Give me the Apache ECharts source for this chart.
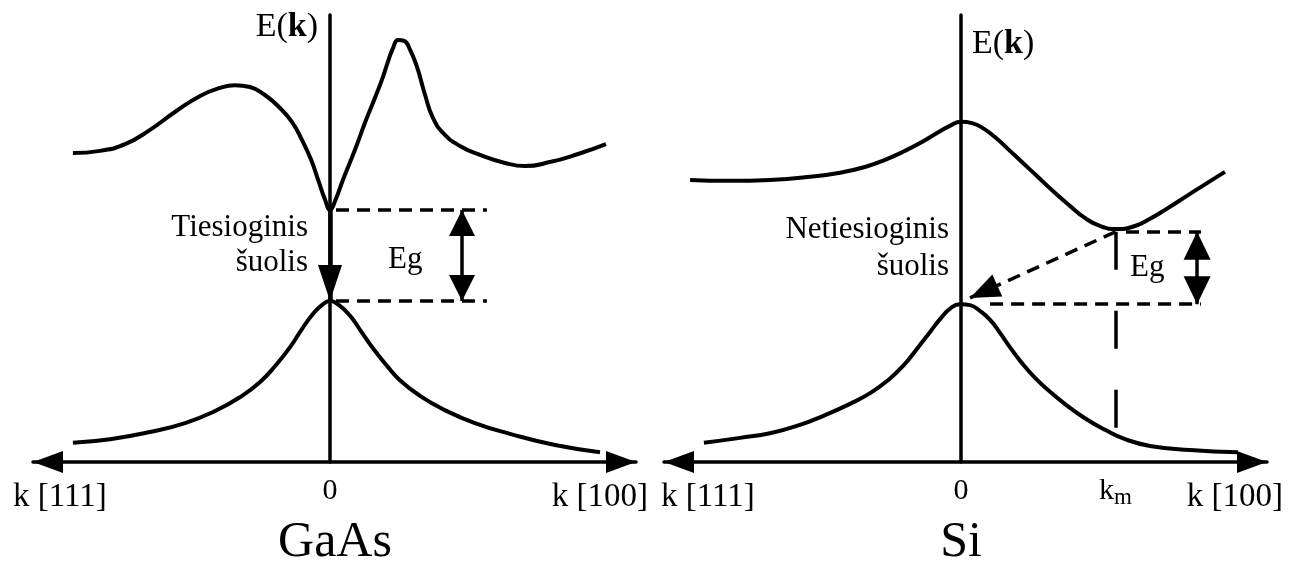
<!DOCTYPE html>
<html>
<head>
<meta charset="utf-8">
<script src="https://cdn.jsdelivr.net/npm/echarts@6/dist/echarts.min.js"></script>
<style>
html, body { margin: 0; padding: 0; background: #fff; }
#chart { width: 1296px; height: 568px; }
</style>
</head>
<body>
<div id="chart"></div>
<script>
// Band diagrams E(k) for GaAs (direct gap) and Si (indirect gap).
// k runs from the [111] direction (negative) to the [100] direction (positive).

// GaAs conduction band
const gaasCondK = [-0.857, -0.767, -0.683, -0.6, -0.517, -0.433, -0.367, -0.317, -0.267, -0.217, -0.167, -0.127,
  -0.093, -0.063, -0.037, -0.017, 0, 0.017, 0.043, 0.083, 0.12, 0.147, 0.173, 0.193, 0.21, 0.227, 0.247, 0.267,
  0.29, 0.317, 0.343, 0.38, 0.433, 0.5, 0.583, 0.65, 0.733, 0.827, 0.92];
const gaasCondE = [6.91, 6.96, 7.11, 7.43, 7.83, 8.19, 8.37, 8.43, 8.39, 8.21, 7.92, 7.61,
  7.20, 6.76, 6.26, 5.88, 5.64, 5.84, 6.31, 6.98, 7.65, 8.10, 8.55, 8.95, 9.26, 9.44, 9.42, 9.22,
  8.84, 8.21, 7.70, 7.34, 7.07, 6.87, 6.69, 6.62, 6.71, 6.89, 7.11];

// GaAs valence band
const gaasValK = [-0.857, -0.733, -0.6, -0.483, -0.383, -0.3, -0.233, -0.18, -0.133, -0.093, -0.057, -0.027, 0,
  0.03, 0.067, 0.107, 0.147, 0.19, 0.233, 0.3, 0.383, 0.483, 0.6, 0.75, 0.9];
const gaasValE = [0.43, 0.51, 0.67, 0.87, 1.14, 1.45, 1.79, 2.17, 2.57, 2.98, 3.31, 3.51, 3.60,
  3.51, 3.27, 2.89, 2.51, 2.15, 1.83, 1.48, 1.16, 0.87, 0.63, 0.38, 0.22];

// Si conduction band
const siCondK = [-0.903, -0.77, -0.637, -0.503, -0.403, -0.32, -0.253, -0.187, -0.13, -0.08, -0.037, 0,
  0.037, 0.073, 0.113, 0.157, 0.203, 0.253, 0.31, 0.363, 0.413, 0.463, 0.52, 0.58, 0.63, 0.68, 0.757, 0.82, 0.88];
const siCondE = [6.31, 6.29, 6.31, 6.38, 6.47, 6.60, 6.76, 6.96, 7.16, 7.36, 7.52, 7.61,
  7.58, 7.47, 7.27, 7.00, 6.71, 6.40, 6.04, 5.73, 5.46, 5.28, 5.21, 5.28, 5.44, 5.64, 5.97, 6.24, 6.49];

// Si valence band
const siValK = [-0.857, -0.737, -0.633, -0.537, -0.453, -0.37, -0.303, -0.243, -0.193, -0.147, -0.103, -0.067, -0.033, 0,
  0.03, 0.063, 0.097, 0.13, 0.163, 0.2, 0.247, 0.297, 0.35, 0.413, 0.48, 0.547, 0.63, 0.763, 0.923];
const siValE = [0.43, 0.54, 0.65, 0.83, 1.05, 1.30, 1.54, 1.83, 2.15, 2.53, 2.91, 3.22, 3.45, 3.53,
  3.51, 3.38, 3.18, 2.89, 2.57, 2.24, 1.88, 1.57, 1.28, 0.98, 0.72, 0.51, 0.36, 0.27, 0.22];

// Band edges and gap markers
const gaasEc = 5.64, gaasEv = 3.60;
const gaasGuideK = [0.02, 0.523];   // dashed guide lines at Ec and Ev
const gaasEgK = 0.44;               // position of the Eg double arrow

const siEc = 5.15, siEv = 3.53;
const siKm = 0.515;                 // k of the conduction band minimum
const siTopGuideK = [0.55, 0.80];
const siBottomGuideK = [0.097, 0.80];
const siEgK = 0.787;
const siDropEnd = 0.72;             // lower end of the dashed line at k_m
const siJumpTip = [0.03, 3.67];     // head of the indirect transition arrow

// Axis ranges and labels
const kMin = -0.99, kMax = 1.02;
const eMin = 0, eMax = 10;
const gaasTickLabels = [0];
const siTickLabels = [0, siKm];

const SERIF = "'Liberation Serif', 'DejaVu Serif', serif";
const INK = '#000';

const zip = (ks, es) => ks.map((k, i) => [k, es[i]]);

const chart = echarts.init(document.getElementById('chart'), null, { renderer: 'canvas' });

function xAxisFor(gridIndex, labelValues) {
  return {
    type: 'value', gridIndex, min: kMin, max: kMax,
    splitLine: { show: false },
    axisTick: { show: false },
    axisLine: {
      show: true, onZero: true,
      symbol: ['triangle', 'triangle'],
      symbolSize: [22, 30],
      symbolOffset: [15, -15],
      lineStyle: { color: INK, width: 3.5 }
    },
    axisLabel: {
      show: true,
      customValues: labelValues,
      margin: 14,
      color: INK,
      fontFamily: SERIF,
      fontSize: 30,
      formatter: v => (v === 0 ? '0' : '{k|k}{m|m}'),
      rich: {
        k: { fontFamily: SERIF, fontSize: 30, color: INK, lineHeight: 30 },
        m: { fontFamily: SERIF, fontSize: 23, color: INK, lineHeight: 30, padding: [14, 0, 0, 0] }
      }
    }
  };
}

function yAxisFor(gridIndex) {
  return {
    type: 'value', gridIndex, min: eMin, max: eMax,
    splitLine: { show: false },
    axisTick: { show: false },
    axisLabel: { show: false },
    axisLine: { show: true, onZero: true, lineStyle: { color: INK, width: 3.5 } }
  };
}

const bandStyle = { color: INK, width: 4 };
const dashed = { color: INK, width: 3.5, type: [13, 8] };

function band(idx, ks, es, extra) {
  return Object.assign({
    type: 'line', xAxisIndex: idx, yAxisIndex: idx,
    data: zip(ks, es), smooth: 0.5, symbol: 'none',
    lineStyle: bandStyle, silent: true, z: 3
  }, extra || {});
}

// markLine endpoint helpers
const pt = (k, e) => ({ coord: [k, e] });
const head = (k, e, w, h) => ({ coord: [k, e], symbol: 'triangle', symbolSize: [w, h], symbolOffset: [0, '50%'] });

const markBase = {
  silent: true, animation: false,
  symbol: ['none', 'none'],
  label: { show: false },
  emphasis: { disabled: true },
  lineStyle: { color: INK, width: 3.5, type: 'solid' }
};

const gaasMarks = Object.assign({}, markBase, {
  data: [
    [Object.assign(pt(gaasGuideK[0], gaasEc), { lineStyle: dashed }), pt(gaasGuideK[1], gaasEc)],
    [Object.assign(pt(gaasGuideK[0], gaasEv), { lineStyle: dashed }), pt(gaasGuideK[1], gaasEv)],
    // direct transition
    [Object.assign(pt(0, gaasEc), { lineStyle: { color: INK, width: 4.5, type: 'solid' } }), head(0, gaasEv, 24, 36)],
    // Eg double arrow
    [Object.assign(head(gaasEgK, gaasEc, 26, 26), { lineStyle: { color: INK, width: 3.5, type: 'solid' } }), head(gaasEgK, gaasEv, 26, 26)]
  ]
});

const siMarks = Object.assign({}, markBase, {
  data: [
    [Object.assign(pt(siTopGuideK[0], siEc), { lineStyle: dashed }), pt(siTopGuideK[1], siEc)],
    [Object.assign(pt(siBottomGuideK[0], siEv), { lineStyle: dashed }), pt(siBottomGuideK[1], siEv)],
    // dashed drop from the conduction minimum to k_m
    [Object.assign(pt(siKm, siEc), { lineStyle: { color: INK, width: 3.5, type: [38, 41] } }), pt(siKm, siDropEnd)],
    // indirect transition
    [Object.assign(pt(siKm, siEc), { lineStyle: dashed }), head(siJumpTip[0], siJumpTip[1], 24, 30)],
    // Eg double arrow
    [Object.assign(head(siEgK, siEc, 27, 28), { lineStyle: { color: INK, width: 3.5, type: 'solid' } }), head(siEgK, siEv, 27, 28)]
  ]
});

function label(text, x, y, size, align) {
  return {
    type: 'text', x, y, silent: true, z: 10,
    style: {
      text, fill: INK, font: size + 'px ' + SERIF,
      textAlign: align, textVerticalAlign: 'middle'
    }
  };
}

function ekLabel(x, y, align) {
  return {
    type: 'text', x, y, silent: true, z: 10,
    style: {
      text: '{n|E(}{b|k}{n|)}',
      textAlign: align, textVerticalAlign: 'middle',
      rich: {
        n: { fontFamily: SERIF, fontSize: 34, fill: INK, color: INK },
        b: { fontFamily: SERIF, fontSize: 34, fontWeight: 'bold', fill: INK, color: INK }
      }
    }
  };
}

const option = {
  backgroundColor: '#fff',
  animation: false,
  grid: [
    { left: 33, top: 15, width: 603, height: 447, outerBoundsMode: 'none', containLabel: false },
    { left: 664, top: 15, width: 603, height: 447, outerBoundsMode: 'none', containLabel: false }
  ],
  xAxis: [xAxisFor(0, gaasTickLabels), xAxisFor(1, siTickLabels)],
  yAxis: [yAxisFor(0), yAxisFor(1)],
  series: [
    band(0, gaasCondK, gaasCondE),
    band(0, gaasValK, gaasValE, { markLine: gaasMarks }),
    band(1, siCondK, siCondE),
    band(1, siValK, siValE, { markLine: siMarks })
  ],
  graphic: [
    ekLabel(318, 27, 'right'),
    ekLabel(972, 44, 'left'),
    label('Tiesioginis', 308, 228, 31, 'right'),
    label('šuolis', 308, 263, 31, 'right'),
    label('Netiesioginis', 949, 230, 31, 'right'),
    label('šuolis', 949, 267, 31, 'right'),
    label('Eg', 388, 260, 31, 'left'),
    label('Eg', 1130, 268, 31, 'left'),
    label('k [111]', 13, 497, 33, 'left'),
    label('k [100]', 648, 497, 33, 'right'),
    label('k [111]', 661, 497, 33, 'left'),
    label('k [100]', 1283, 497, 33, 'right'),
    label('GaAs', 335, 543, 50, 'center'),
    label('Si', 961, 543, 50, 'center')
  ]
};

chart.setOption(option);
</script>
</body>
</html>
